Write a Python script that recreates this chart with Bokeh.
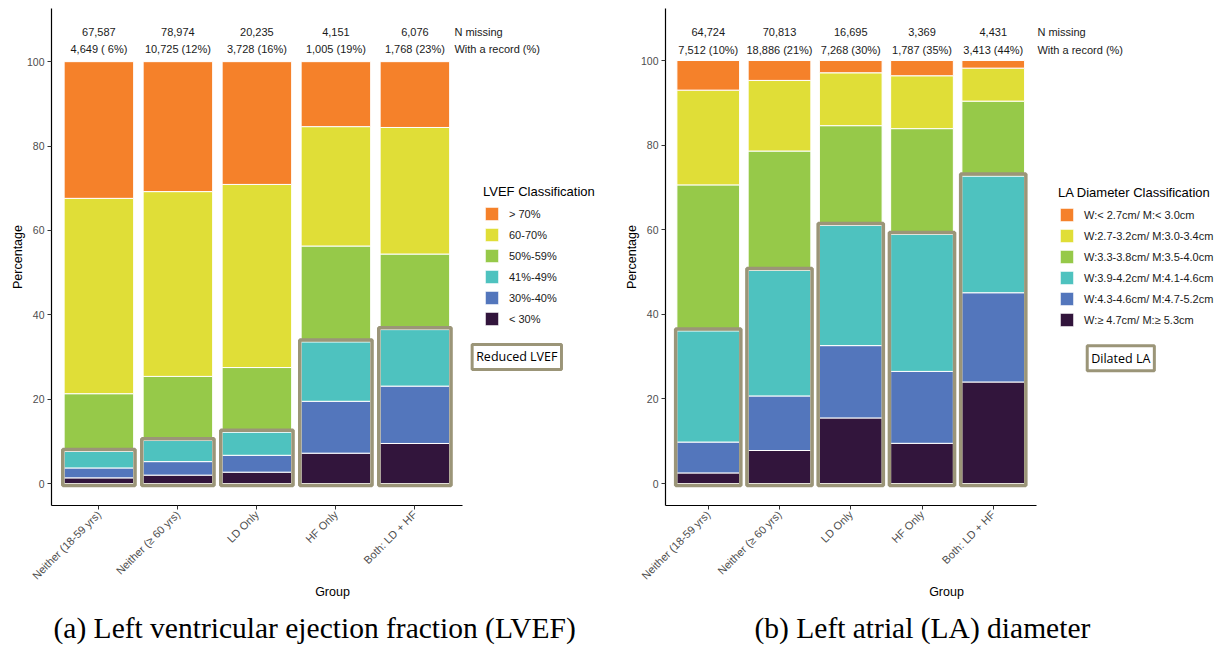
import math

from bokeh.core.properties import value
from bokeh.embed import file_html
from bokeh.layouts import row
from bokeh.models import ColumnDataSource, FixedTicker, Label, Legend, LegendItem, Range1d, Title
from bokeh.plotting import figure
from bokeh.resources import INLINE

# ---- shared categories ----
groups = ["Neither (18-59 yrs)", "Neither (\u2265 60 yrs)", "LD Only", "HF Only", "Both: LD + HF"]

# ---- LVEF panel (percent of patients with a record, bottom to top) ----
lvef_classes = ["< 30%", "30%-40%", "41%-49%", "50%-59%", "60-70%", "> 70%"]
lvef_lt30 = [1.35, 2.0, 2.7, 7.2, 9.5]
lvef_30_40 = [2.35, 3.2, 4.0, 12.3, 13.6]
lvef_41_49 = [3.9, 5.0, 5.5, 14.1, 13.4]
lvef_50_59 = [13.7, 15.2, 15.3, 22.7, 17.9]
lvef_60_70 = [46.3, 43.8, 43.4, 28.3, 30.0]
lvef_gt70 = [32.4, 30.8, 29.1, 15.4, 15.6]
lvef_missing = ["67,587", "78,974", "20,235", "4,151", "6,076"]
lvef_record = ["4,649 ( 6%)", "10,725 (12%)", "3,728 (16%)", "1,005 (19%)", "1,768 (23%)"]

# ---- LA diameter panel (bottom to top) ----
la_classes = ["W:\u2265 4.7cm/ M:\u2265 5.3cm", "W:4.3-4.6cm/ M:4.7-5.2cm", "W:3.9-4.2cm/ M:4.1-4.6cm",
              "W:3.3-3.8cm/ M:3.5-4.0cm", "W:2.7-3.2cm/ M:3.0-3.4cm", "W:< 2.7cm/ M:< 3.0cm"]
la_ge47 = [2.5, 7.8, 15.5, 9.5, 24.0]
la_43_46 = [7.3, 12.9, 17.1, 17.0, 21.1]
la_39_42 = [26.3, 29.7, 28.4, 32.4, 27.6]
la_33_38 = [34.5, 28.2, 23.6, 25.0, 17.7]
la_27_32 = [22.4, 16.7, 12.5, 12.5, 7.8]
la_lt27 = [7.0, 4.7, 2.9, 3.6, 1.8]
la_missing = ["64,724", "70,813", "16,695", "3,369", "4,431"]
la_record = ["7,512 (10%)", "18,886 (21%)", "7,268 (30%)", "1,787 (35%)", "3,413 (44%)"]

palette = ["#32153C", "#5376BC", "#4EC2BF", "#96C949", "#E0DE37", "#F5812A"]
box_color = "#9B9578"
SANS = "Liberation Sans"


def make_panel(width, frame_left, px_per_unit, bottom, yr, series, classes, missing, record,
               legend_title, legend_loc, box_label, box_xy, side_x, caption, caption_offset):
    # the frame spans to the right edge so the legend and side notes are drawn inside it;
    # the x axis line itself is bounded to the bar area
    x_end = 0.4 + (width - frame_left) / px_per_unit
    p = figure(width=width, height=654, output_backend="svg", toolbar_location=None,
               x_range=Range1d(0.4, x_end), y_range=Range1d(*yr),
               min_border_left=frame_left, min_border_right=0,
               min_border_top=8, min_border_bottom=654 - bottom)
    xs = list(range(1, len(groups) + 1))
    data = {"x": xs}
    keys = []
    for i, s in enumerate(series):
        k = f"s{i}"
        data[k] = s
        keys.append(k)
    src = ColumnDataSource(data)
    rends = p.vbar_stack(keys, x="x", width=0.88, source=src, fill_color=palette,
                         line_color="white", line_width=1)

    # outline around the three lowest (abnormal) classes
    box_top = [a + b + c + 0.45 for a, b, c in zip(series[0], series[1], series[2])]
    p.vbar(x=xs, width=0.915, bottom=-0.45, top=box_top, fill_alpha=0,
           line_color=box_color, line_width=3.5)

    # counts above the bars
    y_miss, y_rec = yr[1] - 5.6, yr[1] - 9.7
    p.text(x=xs, y=[y_miss] * 5, text=missing, text_align="center", text_baseline="middle",
           text_font=value(SANS), text_font_size="11px", text_color="#1a1a1a")
    p.text(x=xs, y=[y_rec] * 5, text=record, text_align="center", text_baseline="middle",
           text_font=value(SANS), text_font_size="11px", text_color="#1a1a1a")
    for txt, yy in (("N missing", y_miss), ("With a record (%)", y_rec)):
        p.add_layout(Label(x=side_x, y=yy, text=txt, text_baseline="middle", text_align="left",
                           text_font=SANS, text_font_size="11px", text_color="#1a1a1a"))

    # axes
    p.xgrid.visible = False
    p.ygrid.visible = False
    p.outline_line_color = None
    p.yaxis.ticker = FixedTicker(ticks=[0, 20, 40, 60, 80, 100])
    p.xaxis.ticker = FixedTicker(ticks=xs)
    p.xaxis.bounds = (0.4, 5.6)
    p.xaxis.major_label_overrides = {x: g for x, g in zip(xs, groups)}
    p.xaxis.major_label_orientation = math.pi / 4
    p.axis.minor_tick_line_color = None
    p.axis.major_tick_in = 0
    p.axis.major_tick_out = 4
    p.axis.major_tick_line_color = "#333333"
    p.axis.axis_line_color = "black"
    p.axis.axis_line_width = 1.2
    p.axis.major_label_text_font = SANS
    p.axis.major_label_text_color = "#4d4d4d"
    p.yaxis.major_label_text_font_size = "10.5px"
    p.xaxis.major_label_text_font_size = "11px"
    p.axis.major_label_standoff = 3
    p.axis.axis_label_text_font = SANS
    p.axis.axis_label_text_font_size = "12.5px"
    p.axis.axis_label_text_font_style = "normal"
    p.axis.axis_label_text_color = "black"
    p.xaxis.axis_label = "Group"
    p.yaxis.axis_label = "Percentage"
    p.xaxis.axis_label_standoff = -4
    p.yaxis.axis_label_standoff = -1

    # legend, largest class first
    items = [LegendItem(label=c, renderers=[r]) for c, r in zip(classes, rends)][::-1]
    leg = Legend(items=items, title=legend_title, location=legend_loc,
                 title_text_font=SANS, title_text_font_size="13px", title_text_font_style="normal",
                 title_text_color="black", title_standoff=6,
                 label_text_font=SANS, label_text_font_size="11px", label_text_color="#1a1a1a",
                 glyph_width=17, glyph_height=17, label_height=17, label_standoff=9,
                 spacing=4, padding=0, margin=0, border_line_color=None, background_fill_alpha=0)
    p.add_layout(leg)

    p.add_layout(Label(x=box_xy[0], y=box_xy[1], text=box_label, text_align="center",
                       text_baseline="middle", text_font="Open Sans", text_font_size="12.5px",
                       text_color="black", border_line_color=box_color, border_line_width=3,
                       background_fill_color="white", padding=4))

    p.add_layout(Title(text=caption, align="left", offset=caption_offset, standoff=17,
                       text_font="Liberation Serif", text_font_size="29.5px",
                       text_font_style="normal", text_color="black"), "below")
    return p


p1 = make_panel(
    613, 51, 79.0, 507, (-5.2, 112.6),
    [lvef_lt30, lvef_30_40, lvef_41_49, lvef_50_59, lvef_60_70, lvef_gt70],
    lvef_classes, lvef_missing, lvef_record, "LVEF Classification", (432, 178),
    "Reduced LVEF", (6.29, 30.0), 5.50,
    "(a) Left ventricular ejection fraction (LVEF)", 2)

p2 = make_panel(
    614, 52, 71.25, 505, (-5.2, 112.3),
    [la_ge47, la_43_46, la_39_42, la_33_38, la_27_32, la_lt27],
    la_classes, la_missing, la_record, "LA Diameter Classification", (393, 177),
    "Dilated LA", (6.79, 29.6), 5.62,
    "(b) Left atrial (LA) diameter", 89)

layout = row(p1, p2)
open("out.html", "w").write(file_html(layout, INLINE))
